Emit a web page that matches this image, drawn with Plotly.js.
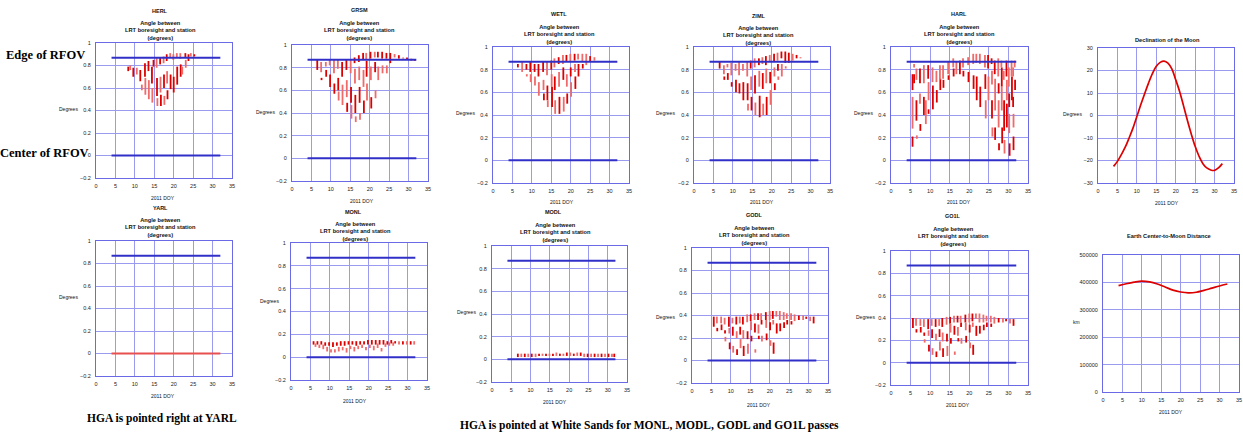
<!DOCTYPE html>
<html><head><meta charset="utf-8">
<script src="https://cdn.plot.ly/plotly-3.0.1.min.js"></script>
<style>html,body{margin:0;padding:0;background:#fff;}#chart{width:1243px;height:434px;}</style>
</head><body><div id="chart"></div>
<script>
// ---------- DATA ----------
// Passes: [day of 2011, min angle, max angle] (degrees)
const HERL = [[8.3,0.75,0.79],[8.8,0.76,0.80],[9.6,0.70,0.78],[10.5,0.72,0.78],[11.4,0.66,0.76],[11.8,0.58,0.63],[12.6,0.70,0.82],[12.7,0.54,0.69],[13.5,0.75,0.84],[13.6,0.50,0.67],[14.4,0.64,0.79],[14.5,0.47,0.60],[14.8,0.79,0.85],[15.6,0.78,0.87],[15.7,0.53,0.69],[15.8,0.44,0.51],[16.5,0.81,0.87],[16.6,0.56,0.70],[16.7,0.44,0.54],[17.4,0.82,0.88],[17.5,0.60,0.72],[17.6,0.45,0.53],[18.2,0.84,0.90],[18.3,0.64,0.75],[18.4,0.50,0.58],[19.1,0.87,0.91],[19.2,0.59,0.72],[19.9,0.85,0.90],[20.0,0.56,0.70],[20.8,0.87,0.91],[20.9,0.63,0.79],[21.7,0.86,0.91],[21.8,0.70,0.81],[22.2,0.72,0.79],[23.0,0.87,0.91],[23.1,0.78,0.85],[23.8,0.84,0.90],[24.4,0.88,0.91],[25.3,0.88,0.90]];
const GRSM = [[6.5,0.78,0.87],[7.5,0.76,0.85],[7.6,0.69,0.71],[8.7,0.81,0.85],[8.8,0.72,0.78],[9.7,0.82,0.87],[9.8,0.63,0.74],[10.8,0.75,0.87],[10.9,0.57,0.66],[11.8,0.79,0.87],[11.9,0.60,0.71],[12.0,0.51,0.59],[12.9,0.72,0.85],[13.0,0.47,0.65],[14.0,0.78,0.87],[14.1,0.54,0.69],[14.2,0.41,0.49],[15.1,0.75,0.87],[15.2,0.49,0.63],[15.3,0.35,0.47],[16.1,0.84,0.89],[16.2,0.66,0.79],[16.3,0.40,0.56],[16.4,0.32,0.37],[17.2,0.85,0.91],[17.3,0.69,0.81],[17.4,0.49,0.63],[17.5,0.34,0.40],[18.3,0.87,0.93],[18.4,0.63,0.78],[18.5,0.40,0.51],[19.1,0.87,0.93],[19.2,0.72,0.86],[19.3,0.51,0.66],[20.2,0.88,0.94],[20.3,0.69,0.81],[20.4,0.44,0.54],[21.3,0.89,0.94],[21.4,0.76,0.85],[21.5,0.53,0.60],[22.1,0.89,0.94],[22.2,0.69,0.81],[23.2,0.88,0.94],[23.3,0.75,0.82],[24.3,0.88,0.93],[24.4,0.75,0.82],[25.3,0.84,0.93],[26.4,0.89,0.92],[27.5,0.88,0.91],[28.6,0.88,0.89],[29.6,0.87,0.89],[30.7,0.86,0.88],[31.6,0.86,0.87]];
const WETL = [[6.4,0.82,0.85],[7.5,0.78,0.87],[8.6,0.80,0.85],[8.7,0.74,0.76],[9.6,0.78,0.87],[9.7,0.69,0.76],[10.7,0.78,0.85],[10.8,0.66,0.74],[11.7,0.74,0.85],[11.8,0.57,0.69],[12.9,0.78,0.87],[13.0,0.62,0.71],[13.1,0.53,0.59],[13.9,0.75,0.87],[14.0,0.53,0.66],[14.1,0.47,0.53],[15.0,0.80,0.88],[15.1,0.65,0.76],[15.2,0.47,0.65],[15.8,0.82,0.90],[15.9,0.62,0.74],[16.0,0.41,0.53],[16.9,0.85,0.91],[17.0,0.65,0.78],[17.1,0.41,0.56],[18.0,0.85,0.93],[18.1,0.71,0.82],[18.2,0.43,0.56],[18.9,0.87,0.93],[19.0,0.65,0.76],[19.1,0.50,0.59],[19.9,0.87,0.94],[20.0,0.74,0.82],[20.1,0.56,0.69],[21.0,0.88,0.94],[21.1,0.78,0.85],[21.2,0.63,0.74],[21.9,0.89,0.94],[22.0,0.74,0.85],[23.0,0.87,0.94],[23.1,0.81,0.85],[24.0,0.84,0.94],[25.0,0.87,0.92],[26.1,0.88,0.91]];
const ZIML = [[6.6,0.81,0.87],[7.7,0.76,0.84],[7.8,0.71,0.74],[8.6,0.82,0.85],[8.7,0.71,0.77],[9.6,0.75,0.86],[9.7,0.65,0.69],[10.7,0.79,0.85],[10.8,0.60,0.71],[11.6,0.75,0.87],[11.7,0.59,0.68],[12.6,0.79,0.85],[12.7,0.53,0.69],[13.7,0.74,0.87],[13.8,0.53,0.68],[13.9,0.44,0.50],[14.6,0.81,0.88],[14.7,0.62,0.74],[14.8,0.44,0.56],[15.6,0.82,0.90],[15.7,0.59,0.75],[15.8,0.40,0.51],[16.7,0.84,0.90],[16.8,0.65,0.79],[16.9,0.38,0.57],[17.6,0.85,0.91],[17.7,0.63,0.77],[17.8,0.40,0.50],[18.5,0.84,0.92],[18.6,0.68,0.81],[18.7,0.40,0.56],[19.5,0.87,0.93],[19.6,0.68,0.78],[19.7,0.49,0.62],[20.6,0.87,0.94],[20.7,0.74,0.82],[20.8,0.62,0.68],[21.5,0.88,0.95],[21.6,0.79,0.85],[21.7,0.71,0.74],[22.5,0.90,0.96],[22.6,0.74,0.85],[23.5,0.86,0.96],[23.6,0.81,0.83],[24.4,0.86,0.95],[25.4,0.88,0.94],[26.4,0.90,0.93],[27.4,0.90,0.91]];
const HARL = [[5.5,0.62,0.76],[5.5,0.28,0.56],[5.5,0.12,0.21],[5.9,0.82,0.85],[5.9,0.68,0.76],[6.5,0.71,0.81],[6.5,0.35,0.53],[6.6,0.19,0.22],[7.4,0.68,0.81],[7.4,0.50,0.59],[7.5,0.26,0.32],[8.4,0.68,0.84],[8.4,0.40,0.56],[8.9,0.32,0.53],[9.5,0.72,0.84],[9.6,0.53,0.69],[9.6,0.41,0.45],[10.6,0.69,0.82],[10.7,0.45,0.66],[11.6,0.69,0.79],[11.7,0.51,0.62],[12.5,0.71,0.84],[12.6,0.62,0.72],[13.3,0.72,0.84],[13.4,0.64,0.71],[14.6,0.76,0.87],[14.7,0.71,0.75],[15.9,0.82,0.90],[16.0,0.74,0.81],[16.7,0.76,0.87],[17.6,0.76,0.88],[18.4,0.82,0.90],[18.5,0.74,0.79],[19.7,0.84,0.91],[19.8,0.69,0.78],[21.0,0.85,0.94],[21.1,0.63,0.75],[21.8,0.86,0.94],[21.9,0.53,0.74],[22.7,0.85,0.94],[22.8,0.47,0.65],[24.0,0.82,0.93],[24.1,0.63,0.76],[24.2,0.37,0.53],[24.8,0.81,0.93],[24.9,0.53,0.74],[25.7,0.85,0.90],[25.8,0.67,0.79],[25.8,0.37,0.53],[25.9,0.21,0.29],[26.5,0.76,0.88],[26.6,0.44,0.72],[26.6,0.18,0.29],[27.4,0.74,0.90],[27.5,0.59,0.68],[27.5,0.29,0.53],[27.6,0.09,0.15],[28.2,0.82,0.88],[28.3,0.65,0.82],[28.3,0.44,0.65],[28.4,0.15,0.29],[28.8,0.71,0.79],[28.9,0.26,0.53],[29.0,0.06,0.18],[29.5,0.74,0.88],[29.6,0.53,0.71],[29.6,0.29,0.50],[30.1,0.65,0.82],[30.2,0.47,0.59],[30.2,0.24,0.41],[30.3,0.04,0.15],[30.8,0.74,0.88],[30.9,0.53,0.74],[31.2,0.74,0.82],[31.2,0.47,0.56],[31.3,0.29,0.41],[31.3,0.09,0.21],[31.6,0.82,0.88],[31.7,0.62,0.71]];
const MONL = [[5.8,0.11,0.14],[6.3,0.09,0.12],[6.8,0.11,0.14],[7.3,0.08,0.11],[7.8,0.11,0.14],[8.3,0.07,0.11],[8.8,0.10,0.13],[9.3,0.05,0.09],[9.8,0.10,0.13],[10.3,0.04,0.07],[10.8,0.09,0.13],[11.3,0.04,0.07],[11.8,0.10,0.13],[12.3,0.05,0.09],[12.8,0.10,0.14],[13.3,0.06,0.09],[13.8,0.10,0.14],[14.3,0.04,0.08],[14.8,0.11,0.14],[15.3,0.07,0.10],[15.8,0.11,0.14],[16.3,0.05,0.09],[16.8,0.10,0.14],[17.3,0.07,0.10],[17.8,0.11,0.14],[18.3,0.08,0.11],[18.8,0.11,0.14],[19.3,0.06,0.09],[19.8,0.11,0.15],[20.3,0.08,0.11],[20.8,0.11,0.15],[21.3,0.06,0.10],[21.8,0.11,0.15],[22.3,0.08,0.12],[22.8,0.11,0.15],[23.3,0.05,0.08],[23.8,0.11,0.15],[24.3,0.09,0.12],[24.8,0.11,0.14],[25.3,0.10,0.13],[25.8,0.12,0.15],[26.3,0.10,0.13],[26.8,0.12,0.14],[27.8,0.11,0.14],[28.8,0.11,0.14],[29.8,0.11,0.14],[30.8,0.11,0.14],[31.7,0.11,0.14]];
const MODL = [[6.7,0.02,0.05],[7.6,0.02,0.05],[8.5,0.02,0.05],[9.4,0.02,0.05],[10.3,0.02,0.05],[11.3,0.02,0.05],[12.2,0.03,0.05],[13.1,0.03,0.05],[14.0,0.03,0.05],[14.9,0.03,0.05],[15.8,0.03,0.05],[16.7,0.03,0.06],[17.6,0.03,0.05],[18.5,0.03,0.05],[19.4,0.03,0.06],[20.3,0.03,0.06],[21.2,0.03,0.05],[22.1,0.03,0.06],[23.0,0.03,0.06],[23.9,0.02,0.05],[24.8,0.02,0.05],[25.7,0.02,0.05],[26.6,0.02,0.05],[27.5,0.02,0.05],[28.4,0.02,0.05],[29.3,0.02,0.05],[30.2,0.02,0.05],[31.1,0.02,0.05],[31.7,0.02,0.05]];
const GODL = [[5.6,0.30,0.39],[6.4,0.33,0.39],[6.5,0.26,0.29],[7.5,0.33,0.39],[7.6,0.27,0.32],[8.4,0.32,0.38],[8.5,0.24,0.27],[8.6,0.17,0.21],[9.5,0.30,0.39],[9.6,0.24,0.29],[9.7,0.10,0.16],[10.4,0.33,0.38],[10.5,0.22,0.30],[10.6,0.07,0.13],[11.4,0.32,0.39],[11.5,0.20,0.26],[11.6,0.05,0.10],[12.3,0.33,0.39],[12.4,0.23,0.30],[12.5,0.11,0.19],[13.1,0.32,0.39],[13.2,0.19,0.27],[13.3,0.04,0.13],[14.2,0.34,0.41],[14.3,0.19,0.26],[14.4,0.06,0.15],[15.1,0.35,0.41],[15.2,0.27,0.35],[15.3,0.17,0.22],[16.1,0.36,0.42],[16.2,0.25,0.33],[16.3,0.07,0.10],[17.0,0.36,0.42],[17.1,0.24,0.32],[17.2,0.19,0.22],[17.8,0.36,0.42],[17.9,0.32,0.36],[18.0,0.17,0.22],[19.0,0.36,0.43],[19.1,0.29,0.36],[19.2,0.18,0.24],[20.0,0.36,0.44],[20.1,0.27,0.34],[20.2,0.13,0.18],[20.8,0.37,0.44],[20.9,0.32,0.36],[21.0,0.06,0.16],[21.7,0.39,0.44],[21.8,0.24,0.33],[22.6,0.36,0.44],[22.7,0.26,0.33],[23.6,0.36,0.43],[23.7,0.29,0.34],[24.4,0.37,0.42],[24.5,0.32,0.36],[25.5,0.36,0.42],[25.6,0.32,0.35],[26.4,0.35,0.41],[27.5,0.36,0.40],[28.6,0.36,0.40],[29.4,0.37,0.39],[30.4,0.35,0.39],[31.3,0.33,0.39]];
const GO1L = [[5.6,0.31,0.40],[6.4,0.33,0.40],[6.5,0.27,0.30],[7.5,0.33,0.39],[7.6,0.27,0.32],[8.4,0.32,0.39],[8.5,0.24,0.27],[8.6,0.18,0.21],[9.5,0.30,0.39],[9.6,0.24,0.29],[9.7,0.10,0.16],[10.4,0.33,0.39],[10.5,0.22,0.30],[10.6,0.07,0.13],[11.4,0.32,0.39],[11.5,0.20,0.26],[11.6,0.05,0.10],[12.3,0.33,0.39],[12.4,0.23,0.30],[12.5,0.11,0.19],[13.1,0.32,0.40],[13.2,0.19,0.27],[13.3,0.05,0.13],[14.2,0.34,0.41],[14.3,0.19,0.26],[14.4,0.06,0.15],[15.1,0.35,0.41],[15.2,0.27,0.35],[15.3,0.17,0.22],[16.1,0.36,0.42],[16.2,0.25,0.33],[16.3,0.07,0.10],[17.0,0.36,0.42],[17.1,0.24,0.32],[17.2,0.19,0.22],[17.8,0.36,0.42],[17.9,0.32,0.36],[18.0,0.17,0.22],[19.0,0.36,0.43],[19.1,0.29,0.36],[19.2,0.18,0.24],[20.0,0.36,0.44],[20.1,0.27,0.34],[20.2,0.13,0.18],[20.8,0.37,0.44],[20.9,0.32,0.36],[21.0,0.07,0.16],[21.7,0.39,0.44],[21.8,0.24,0.33],[22.6,0.36,0.44],[22.7,0.26,0.33],[23.6,0.36,0.43],[23.7,0.29,0.34],[24.4,0.37,0.42],[24.5,0.32,0.36],[25.5,0.36,0.42],[25.6,0.32,0.35],[26.4,0.35,0.41],[27.5,0.36,0.40],[28.6,0.36,0.40],[29.4,0.37,0.39],[30.4,0.35,0.39],[31.3,0.33,0.39]];
const YARL_DAYS = [4, 32];
const YARL_ANGLE = [0, 0];
// RFOV reference lines
const REF_DAYS = [4, 32];
const EDGE_RFOV = 0.87;
const CENTER_RFOV = 0;
// Declination of the Moon (degrees)
const DEC_DAYS = [4,5,6,7,8,9,10,11,12,13,14,15,16,17,18,19,20,21,22,23,24,25,26,27,28,29,30,31,32];
const DEC_DEG = [-22.6,-20.4,-17.4,-14.1,-10.0,-5.6,-0.4,4.8,9.7,14.4,18.6,21.9,23.6,24.2,23.3,20.7,15.9,10.7,4.4,-2.1,-8.2,-13.7,-18.1,-21.4,-23.3,-24.2,-24.4,-23.3,-21.4];
// Earth center to Moon distance (km)
const DIST_DAYS = [4,6,8,10,12,14,16,18,20,22,24,26,28,30,32];
const DIST_KM = [388000,395000,401000,405000,402000,394000,383000,372000,365000,362000,364000,371000,379000,387000,394000];
// Tick values
const DAY_TICKS = [0,5,10,15,20,25,30,35];
const ANGLE_TICKS = [-0.2,0,0.2,0.4,0.6,0.8,1];
const DEC_TICKS = [-30,-20,-10,0,10,20,30];
const DIST_TICKS = [0,100000,200000,300000,400000,500000];

// ---------- LAYOUT ----------
const W = 1243, H = 434;
const BOXES = {
  1:[96,232,43,178], 2:[292,428,45,181], 3:[493,629,47,183], 4:[694,830,47,183], 5:[891,1028,47,183], 6:[1098,1234,48,183],
  7:[96,232,241,376], 8:[291,427,243,380], 9:[492,627,246,382], 10:[692,828,248,383], 11:[891,1028,251,385], 12:[1103,1239,255,392]
};
const PANELS = [
  {n:1, name:'HERL', data:HERL}, {n:2, name:'GRSM', data:GRSM}, {n:3, name:'WETL', data:WETL},
  {n:4, name:'ZIML', data:ZIML}, {n:5, name:'HARL', data:HARL},
  {n:7, name:'YARL', data:null}, {n:8, name:'MONL', data:MONL}, {n:9, name:'MODL', data:MODL},
  {n:10, name:'GODL', data:GODL}, {n:11, name:'GO1L', data:GO1L}
];
const DARK = '#dd0000', LIGHT = '#f06a6a', BLUE = '#3030c8';
const FRAME = '#6a6ae6', GRID = '#9a9af0';
const SANS = 'Arial, Liberation Sans, sans-serif';
const SERIF = 'Times New Roman, Liberation Serif, serif';

const traces = [];
const layout = {
  width: W, height: H, margin: {l:0, r:0, t:0, b:0},
  paper_bgcolor: '#fff', plot_bgcolor: '#fff', showlegend: false,
  font: {family: SANS, size: 5.5, color: '#222'},
  annotations: []
};

function axisPair(n, yrange, yticks, yfmt) {
  const b = BOXES[n];
  const common = {showline:true, mirror:true, linecolor:FRAME, linewidth:1, showgrid:true, gridcolor:GRID, gridwidth:1,
                  zeroline:false, ticks:'', tickfont:{family:SANS, size:5.5, color:'#222'}, fixedrange:true};
  layout['xaxis'+n] = Object.assign({}, common, {domain:[b[0]/W, b[1]/W], range:[0,35], tickvals:DAY_TICKS,
                  anchor:'y'+n, ticklabelstandoff:2});
  layout['yaxis'+n] = Object.assign({}, common, {domain:[1-b[3]/H, 1-b[2]/H], range:yrange, tickvals:yticks,
                  anchor:'x'+n, ticklabelstandoff:3, tickformat: yfmt || ''});
}

function segs(data, parity, n) {
  const xs = [], ys = [];
  data.forEach((p, i) => { if (i % 2 === parity) { xs.push(p[0], p[0], null); ys.push(p[1], p[2], null); } });
  return {type:'scatter', mode:'lines', x:xs, y:ys, xaxis:'x'+n, yaxis:'y'+n,
          line:{color: parity ? LIGHT : DARK, width:1.8}, connectgaps:false, hoverinfo:'skip'};
}

function ann(text, px, py, size, opts) {
  layout.annotations.push(Object.assign({text:text, x:px/W, y:1-py/H, xref:'paper', yref:'paper',
    showarrow:false, xanchor:'center', yanchor:'middle',
    font:{family:SANS, size:size, color:'#111'}}, opts || {}));
}

PANELS.forEach(p => {
  axisPair(p.n, [-0.2, 1], ANGLE_TICKS);
  if (p.data) { traces.push(segs(p.data, 0, p.n)); traces.push(segs(p.data, 1, p.n)); }
  traces.push({type:'scatter', mode:'lines', x:REF_DAYS, y:[EDGE_RFOV, EDGE_RFOV], xaxis:'x'+p.n, yaxis:'y'+p.n,
               line:{color:BLUE, width:2}, hoverinfo:'skip'});
  if (p.data) {
    traces.push({type:'scatter', mode:'lines', x:REF_DAYS, y:[CENTER_RFOV, CENTER_RFOV], xaxis:'x'+p.n, yaxis:'y'+p.n,
                 line:{color:BLUE, width:2}, hoverinfo:'skip'});
  } else {
    traces.push({type:'scatter', mode:'lines', x:YARL_DAYS, y:YARL_ANGLE, xaxis:'x'+p.n, yaxis:'y'+p.n,
                 line:{color:'#e85050', width:2}, hoverinfo:'skip'});
  }
});

axisPair(6, [-30, 30], DEC_TICKS);
traces.push({type:'scatter', mode:'lines', x:DEC_DAYS, y:DEC_DEG, xaxis:'x6', yaxis:'y6',
             line:{color:'#dd0000', width:1.7, shape:'spline'}, hoverinfo:'skip'});
axisPair(12, [0, 500000], DIST_TICKS, 'd');
traces.push({type:'scatter', mode:'lines', x:DIST_DAYS, y:DIST_KM, xaxis:'x12', yaxis:'y12',
             line:{color:'#dd0000', width:1.7, shape:'spline'}, hoverinfo:'skip'});

// Panel titles
const SUB = 'Angle between<br>LRT boresight and station<br>(degrees)';
const TITLES = [
  ['HERL',160,11,160,31],['GRSM',359,10,359,30],['WETL',559,14,559,34],['ZIML',759,16,759,36],['HARL',959,14,959,34],
  ['YARL',160,208,160,228],['MONL',353,212,355,231],['MODL',553,212,555,232],['GODL',754,215,754,235],['GO1L',953,216,953,236]
];
TITLES.forEach(t => { ann(t[0], t[1], t[2], 5.5, {font:{family:SANS,size:5.5,weight:'bold',color:'#111'}});
  ann(SUB, t[3], t[4], 5.7, {font:{family:SANS,size:5.7,weight:'bold',color:'#111'}}); });
ann('Declination of the Moon', 1167, 40, 5.7, {font:{family:SANS,size:5.7,weight:'bold',color:'#111'}});
ann('Earth Center-to-Moon Distance', 1169, 236, 5.7, {font:{family:SANS,size:5.7,weight:'bold',color:'#111'}});

// Axis labels
const YLAB = [['Degrees',68,109],['Degrees',265,112],['Degrees',465,113],['Degrees',666,113],['Degrees',863,113],['Degrees',1072,114],
              ['Degrees',68,297],['Degrees',269,301],['Degrees',466,312],['Degrees',665,317],['Degrees',865,317],['km',1076,322]];
YLAB.forEach(l => ann(l[0], l[1], l[2], 5));
const XLAB = [[163,198],[362,201],[562,202],[762,202],[959,202],[1167,203],[163,396],[355,401],[555,402],[759,405],[958,405],[1171,412]];
XLAB.forEach(l => ann('2011 DOY', l[0], l[1], 5));

// Big labels
const big = {font:{family:SERIF, size:12.5, weight:'bold', color:'#000'}};
ann('Edge of RFOV', 45, 55, 12.5, big);
ann('Center of RFOV', 44, 153, 12.5, big);
ann('HGA is pointed right at YARL', 162, 418, 11.5, {font:{family:SERIF, size:11.5, weight:'bold', color:'#000'}});
ann('HGA is pointed at White Sands for MONL, MODL, GODL and GO1L passes', 649, 425, 11.5, {font:{family:SERIF, size:11.5, weight:'bold', color:'#000'}});

Plotly.newPlot('chart', traces, layout, {staticPlot:true, displayModeBar:false});
</script>
</body></html>
